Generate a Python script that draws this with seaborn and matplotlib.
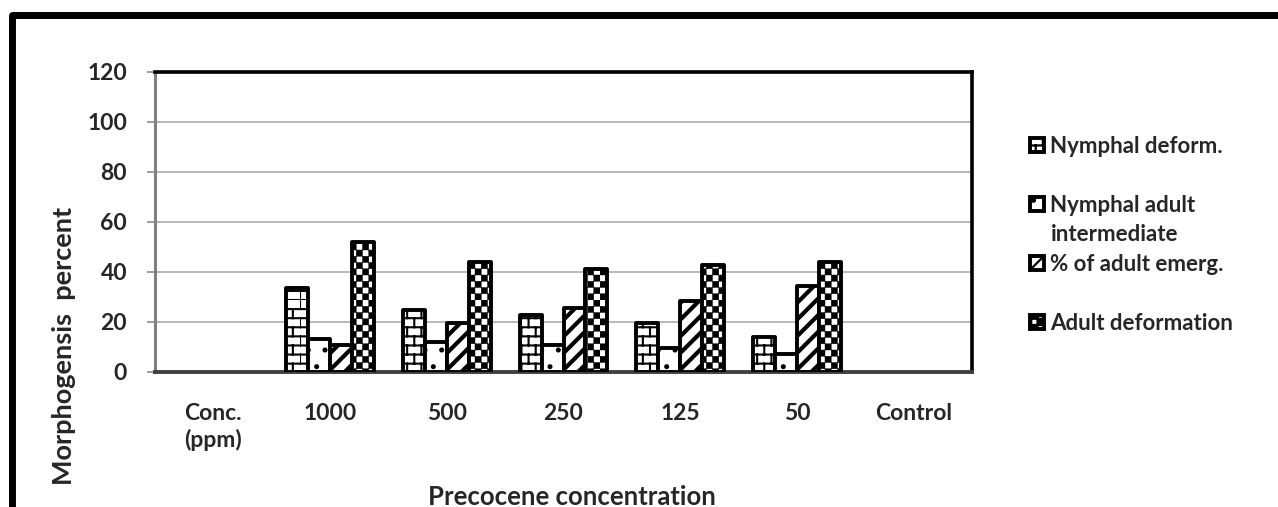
import numpy as np
import pandas as pd
import matplotlib
matplotlib.use("Agg")
import matplotlib.pyplot as plt
import matplotlib.hatch as mhatch
from matplotlib.path import Path
from matplotlib.patches import Patch, Rectangle
import seaborn as sns

# ---------------- data ----------------
categories = ["Conc.\n(ppm)", "1000", "500", "250", "125", "50", "Control"]
series_names = ["Nymphal deform.", "Nymphal adult intermediate",
                "% of adult emerg.", "Adult deformation"]
nymphal_deform = [np.nan, 33.5, 25.0, 23.0, 19.5, 14.1, np.nan]
nymphal_adult_intermediate = [np.nan, 13.2, 12.0, 10.7, 9.7, 7.2, np.nan]
adult_emergence = [np.nan, 11.0, 19.6, 25.5, 28.4, 34.5, np.nan]
adult_deformation = [np.nan, 52.0, 43.9, 41.2, 42.8, 44.0, np.nan]
y_ticks = [0, 20, 40, 60, 80, 100, 120]
x_label = "Precocene concentration"
y_label = "Morphogensis  percent"

# ---------------- custom hatch patterns (brick = 'o', checker = 'O') ----------------
class BrickHatch(mhatch.HatchPatternBase):
    def __init__(self, hatch, density):
        self.on = hatch.count('o') > 0
        self.rows = 11
        self.cols = 7
        self.num_vertices = (self.rows * 2 + self.rows * self.cols * 2) if self.on else 0

    def set_vertices_and_codes(self, vertices, codes):
        segs = []
        for r in range(self.rows):
            y = r / self.rows
            segs.append([[0.0, y], [1.0, y]])
            for c in range(self.cols):
                x = (c + 0.5 * (r % 2)) / self.cols
                segs.append([[x, y], [x, y + 1.0 / self.rows]])
        arr = np.array(segs).reshape(-1, 2)
        vertices[:] = arr
        codes[0::2] = Path.MOVETO
        codes[1::2] = Path.LINETO


class CheckerHatch(mhatch.HatchPatternBase):
    def __init__(self, hatch, density):
        self.n = 16 if hatch.count('O') > 0 else 0
        self.cells = [(i, j) for i in range(self.n) for j in range(self.n)
                      if (i + j) % 2 == 0]
        self.num_vertices = len(self.cells) * 5

    def set_vertices_and_codes(self, vertices, codes):
        s = 1.0 / self.n
        sq = np.array([[0, 0], [1, 0], [1, 1], [0, 1], [0, 0]], float) * s
        cc = [Path.MOVETO, Path.LINETO, Path.LINETO, Path.LINETO, Path.CLOSEPOLY]
        for k, (i, j) in enumerate(self.cells):
            vertices[5 * k:5 * k + 5] = sq + [i * s, j * s]
            codes[5 * k:5 * k + 5] = cc


for idx, ht in enumerate(list(mhatch._hatch_types)):
    if ht is mhatch.SmallCircles:
        mhatch._hatch_types[idx] = BrickHatch
    elif ht is mhatch.LargeCircles:
        mhatch._hatch_types[idx] = CheckerHatch

hatches = ['o', '.', '//', 'O']
hatch_lws = [1.5, 1.2, 3.0, 0.3]

# ---------------- style ----------------
sns.set_style("white")
plt.rcParams['font.family'] = ['Lato', 'DejaVu Sans']
plt.rcParams['font.weight'] = 'bold'
plt.rcParams['axes.labelweight'] = 'bold'
plt.rcParams['hatch.linewidth'] = 1.6

df = pd.DataFrame({
    "category": categories * 4,
    "series": sum([[s] * len(categories) for s in series_names], []),
    "value": nymphal_deform + nymphal_adult_intermediate + adult_emergence + adult_deformation,
}).dropna()

W, H = 1278, 507
fig = plt.figure(figsize=(W / 100, H / 100), dpi=100)
ax = fig.add_axes([155 / W, 1 - 372 / H, 817 / W, 300 / H])

sns.barplot(data=df, x="category", y="value", hue="series", order=categories,
            hue_order=series_names, width=0.75, errorbar=None, legend=False, ax=ax)

for cont, h, hl in zip(ax.containers, hatches, hatch_lws):
    for bar in cont:
        bar.set_facecolor('white')
        bar.set_edgecolor('black')
        bar.set_linewidth(2.8)
        bar.set_joinstyle('round')
        bar.set_hatch(h)
        if hasattr(bar, 'set_hatch_linewidth'):
            bar.set_hatch_linewidth(hl)
        bar.set_zorder(3)

ax.set_ylim(0, 120)
ax.set_xlim(-0.5, len(categories) - 0.5)
ax.set_yticks(y_ticks)
ax.yaxis.grid(True, color='#a6a6a6', linewidth=1.1, zorder=0)
ax.set_axisbelow(True)

for side in ['top', 'right']:
    ax.spines[side].set_color('black')
    ax.spines[side].set_linewidth(2.6)
ax.spines['left'].set_color('#7f7f7f')
ax.spines['left'].set_linewidth(2.2)
ax.spines['bottom'].set_color('#404040')
ax.spines['bottom'].set_linewidth(2.8)

ax.tick_params(axis='y', left=True, length=6, width=1.2, color='#8c8c8c', pad=14,
               labelsize=16.5)
ax.tick_params(axis='x', bottom=False, length=0, pad=22, labelsize=16.5)
for t in ax.get_xticklabels():
    t.set_linespacing(1.3)

ax.set_xlabel(x_label, fontsize=18.5, fontweight='bold')
ax.set_ylabel(y_label, fontsize=19.5, fontweight='bold')
ax.xaxis.set_label_coords((572 - 155) / 817, (372 - 485) / 300)
ax.yaxis.set_label_coords((76 - 155) / 817, (372 - 346) / 300)

# legend (spacer rows reproduce the uneven spacing of the reference)
blank = Patch(facecolor='none', edgecolor='none', linewidth=0)
def mk(h):
    return Patch(facecolor='white', edgecolor='black', linewidth=2.8, hatch=h)
handles = [mk(hatches[0]), blank, mk(hatches[1]), blank, mk(hatches[2]), blank, mk(hatches[3])]
labels = [series_names[0], " ", "Nymphal adult", "intermediate", series_names[2], " ",
          series_names[3]]
leg = fig.legend(handles, labels, loc='upper left',
                 bbox_to_anchor=(1030 / W, 1 - 136 / H), frameon=False,
                 fontsize=16, handlelength=0.62, handleheight=0.62,
                 handletextpad=0.3, labelspacing=0.38, borderpad=0, borderaxespad=0)

# outer chart frame
frame = Rectangle((12 / W, -0.2), 1.3, 1.2 - 15 / H, transform=fig.transFigure,
                  fill=False, edgecolor='black', linewidth=5, joinstyle='round',
                  clip_on=False)
fig.patches.append(frame)

fig.savefig("out.png", dpi=100, facecolor='white')
